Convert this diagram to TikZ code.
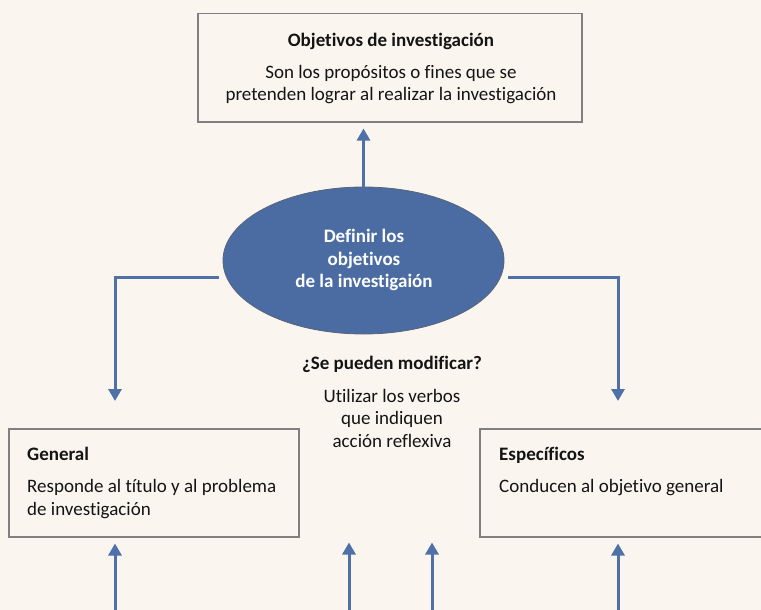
\documentclass[tikz,border=0pt]{standalone}
\usepackage{fontspec}
\setmainfont{Carlito}[Ligatures=NoCommon]
\usetikzlibrary{arrows.meta,shapes.geometric}
\definecolor{bg}{RGB}{250,246,239}
\definecolor{blu}{RGB}{79,113,168}
\definecolor{ell}{RGB}{74,108,163}
\definecolor{ellb}{RGB}{90,100,120}
\definecolor{frame}{RGB}{128,128,128}
\definecolor{txt}{RGB}{20,20,20}
\begin{document}
\begin{tikzpicture}[x=1pt,y=-1pt,
  box/.style={draw=frame, line width=1.5pt, rectangle, inner sep=0pt, anchor=north west},
  conn/.style={draw=blu, line width=3pt, -{Triangle[width=13pt,length=12pt]}},
  lbl/.style={font=\fontsize{19}{24}\selectfont, inner sep=0pt, text=txt, anchor=base},
  lbll/.style={lbl, anchor=base west},
  bold/.style={font=\fontsize{19}{24}\selectfont\bfseries},
  wlbl/.style={font=\fontsize{19}{24}\selectfont\bfseries, inner sep=0pt, text=white, anchor=base}
]
\useasboundingbox (0,0) rectangle (761,610);
\fill[bg] (0,0) rectangle (761,610);

% top box
\node[box, minimum width=384pt, minimum height=108pt] (top) at (197,13) {};
\node[lbl, bold] (toptitle) at (391,47) {Objetivos de investigación};
\node[lbl] (topl1) at (391,78) {Son los propósitos o fines que se};
\node[lbl] (topl2) at (391,101) {pretenden lograr al realizar la investigación};

% ellipse
\node[ellipse, draw=ellb, line width=0.8pt, fill=ell, minimum width=281pt, minimum height=147pt, inner sep=0pt] (ell) at (363.5,260.5) {};
\node[wlbl] (e1) at (364,242) {Definir los};
\node[wlbl] (e2) at (364,265) {objetivos};
\node[wlbl] (e3) at (364,287) {de la investigaión};

% middle text
\node[lbl, bold] (q) at (392,369) {¿Se pueden modificar?};
\node[lbl] (m1) at (392,402) {Utilizar los verbos};
\node[lbl] (m2) at (392,424) {que indiquen};
\node[lbl] (m3) at (392,447) {acción reflexiva};

% left box
\node[box, minimum width=290pt, minimum height=108pt] (gen) at (8,428) {};
\node[lbll, bold] (gent) at (27,460) {General};
\node[lbll] (gen1) at (27,492) {Responde al título y al problema};
\node[lbll] (gen2) at (27,515) {de investigación};

% right box
\node[box, minimum width=290pt, minimum height=108pt] (esp) at (479,428) {};
\node[lbll, bold] (espt) at (499,460) {Específicos};
\node[lbll] (esp1) at (499,492) {Conducen al objetivo general};

% connectors
\draw[conn, shorten >=6pt] (ell.north) -- (ell.north |- top.south);
\coordinate (lstart) at (219,277);
\coordinate (rstart) at (508,277);
\coordinate (lturn) at (115,277);
\coordinate (rturn) at (618,277);
\draw[conn, shorten >=27pt] (lstart) -- (lturn) -- (lturn |- gen.north);
\draw[conn, shorten >=27pt] (rstart) -- (rturn) -- (rturn |- esp.north);

\coordinate (b1) at (115,612);
\coordinate (b2) at (349,612);
\coordinate (b3) at (432,612);
\coordinate (b4) at (618,612);
\draw[conn, shorten >=6pt] (b1) -- (b1 |- gen.south);
\draw[conn, shorten >=5pt] (b2) -- (b2 |- gen.south);
\draw[conn, shorten >=5pt] (b3) -- (b3 |- esp.south);
\draw[conn, shorten >=6pt] (b4) -- (b4 |- esp.south);
\end{tikzpicture}
\end{document}
